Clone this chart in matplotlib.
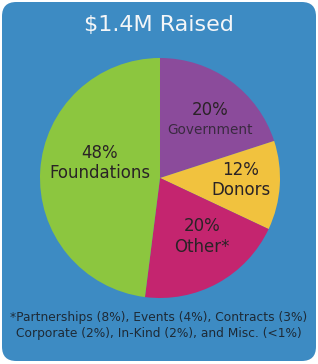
import matplotlib
matplotlib.use("Agg")
import matplotlib.pyplot as plt
from matplotlib.patches import FancyBboxPatch

plt.rcParams['font.family'] = ['DejaVu Sans']

# data
categories = ['Government', 'Donors', 'Other*', 'Foundations']
shares = [20, 12, 20, 48]
colors = ['#8b4b9b', '#f1c23e', '#c4256f', '#8cc63f']
title = '$1.4M Raised'
footnote = ('*Partnerships (8%), Events (4%), Contracts (3%)\n'
            'Corporate (2%), In-Kind (2%), and Misc. (<1%)')

W, H = 318, 364
fig = plt.figure(figsize=(W / 100, H / 100), dpi=100, facecolor='white')

# rounded blue panel behind everything
bg = FancyBboxPatch((2 / W, 3 / H), (W - 4) / W, (H - 5) / H,
                    boxstyle='round,pad=0,rounding_size=0.045',
                    transform=fig.transFigure, facecolor='#3d8bc3',
                    edgecolor='none', mutation_aspect=W / H, zorder=-10)
fig.patches.append(bg)

fig.text(0.5, 1 - 25 / H, title, ha='center', va='center', color='#f4f6f8',
         fontsize=16)

cx, cy, r = 160, 178, 120
ax = fig.add_axes([(cx - r) / W, (H - cy - r) / H, 2 * r / W, 2 * r / H])
ax.set_zorder(1)
ax.patch.set_visible(False)
ax.pie(shares, colors=colors, startangle=90, counterclock=False,
       wedgeprops=dict(linewidth=0))
ax.set_xlim(-1, 1)
ax.set_ylim(-1, 1)
ax.set_aspect('equal')
ax.axis('off')

txt = '#2a2326'
ax.text(-0.5, 0.125, f'{shares[3]}%\n{categories[3]}', ha='center', va='center',
        fontsize=12, color=txt, linespacing=1.2)
ax.text(0.42, 0.565, f'{shares[0]}%', ha='center', va='center',
        fontsize=12, color=txt)
ax.text(0.42, 0.4, categories[0], ha='center', va='center',
        fontsize=9.8, color='#3a2a40')
ax.text(0.675, -0.017, f'{shares[1]}%\n{categories[1]}', ha='center', va='center',
        fontsize=12, color=txt, linespacing=1.15)
ax.text(0.35, -0.49, f'{shares[2]}%\n{categories[2]}', ha='center', va='center',
        fontsize=12, color=txt, linespacing=1.2)

fig.text(0.5, 1 - 326 / H, footnote, ha='center', va='center', color='#1e2a36',
         fontsize=8.8, linespacing=1.3)

fig.savefig('out.png', dpi=100, facecolor='white')
